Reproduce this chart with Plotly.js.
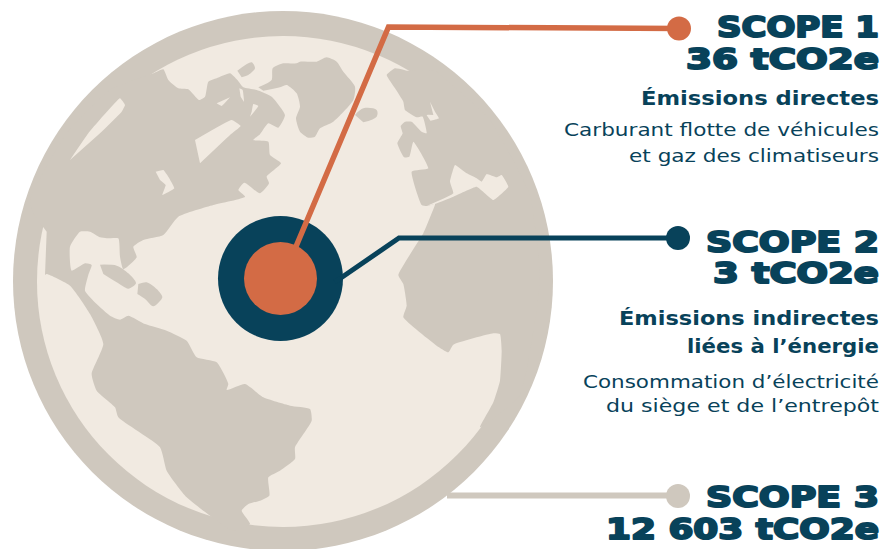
<!DOCTYPE html>
<html><head><meta charset="utf-8">
<script src="https://cdn.plot.ly/plotly-3.0.1.min.js"></script>
<style>html,body{margin:0;padding:0;background:#fff}#c{width:883px;height:549px}</style>
</head><body><div id="c"></div>
<script>
// ---------- chart content ----------
const scopeNames  = ['SCOPE 1', 'SCOPE 2', 'SCOPE 3'];
const scopeValues = ['36', '3', '12 603'];
const scopeUnit   = 'tCO2e';
const subtitles   = ['Émissions directes', 'Émissions indirectes', 'liées à l’énergie'];
const details     = ['Carburant flotte de véhicules', 'et gaz des climatiseurs',
                     'Consommation d’électricité', 'du siège et de l’entrepôt'];

// ---------- palette ----------
const NAVY = '#08425A', ORANGE = '#D36B45', TAUPE = '#CFC8BE', CREAM = '#F1EAE1';

// ---------- helper: outlines were traced on 3x crops, each with its own origin ----------
const tile = (ox, oy, pts) => pts.map(p => [p[0] / 3 + ox, p[1] / 3 + oy]);
const T1 = p => tile(0, 0, p), T2 = p => tile(280, 0, p), T3 = p => tile(0, 274, p), T4 = p => tile(280, 274, p);

const americas = [
  ...T1([[140,695],[100,640],[90,600],[200,400],[330,270],[460,220],[490,208],[505,240],[535,265],[565,268],[597,300],[615,290],[625,245],[650,235],[690,220],[712,240],[730,262],[770,270],[815,290],[855,345],[835,383],[805,370],[780,403],[760,420],[805,425],[810,465],[843,490],[800,530],[807,550],[780,580],[733,548],[715,570],[735,590],[640,615],[535,650],[490,705],[430,720],[400,740],[410,772],[370,808],[360,770],[355,715],[320,715],[300,712],[270,695],[240,695],[210,740],[215,812],[255,790],[275,795],[265,825]]),
  ...T3([[255,50],[290,90],[330,125],[360,137],[385,125],[435,150],[500,170],[560,200],[590,250],[650,265],[685,330],[680,348],[735,330],[790,370],[870,395]]),
  ...T4([[90,405],[95,440],[45,520],[45,555],[0,590]]),
  ...T3([[805,610],[808,665],[780,680],[745,690],[725,710],[750,750],[700,770],[630,725],[560,670],[500,590],[480,520],[355,430],[345,400],[290,350],[275,300],[310,210],[270,120],[210,35],[140,0]]),
  ...T1([[135,825]])
];
const greenland = [
  ...T1([[775,262],[815,240],[818,205],[850,190]]),
  ...T2([[50,190],[60,185],[110,185],[140,172],[170,185],[190,215],[225,260],[220,300],[160,365],[120,385],[105,410],[85,413],[60,395],[48,355],[60,320],[50,280],[20,255],[0,262]]),
  ...T1([[790,272]])
];
const arcticIsle = T1([[712,212],[755,187],[765,205],[745,225],[725,232]]);
const iceland = T2([[225,345],[250,325],[290,330],[290,350],[250,367]]);
const cuba = T3([[300,-28],[350,-25],[385,-2],[408,28],[385,44],[350,25],[310,0]]);
const hispaniola = T3([[415,30],[440,25],[475,50],[487,70],[460,97],[435,75],[412,60]]);
const eurafrica = [
  ...T2([[380,212],[345,205],[320,225],[345,265],[370,305],[375,330],[410,352],[428,350],[440,400],[425,395],[395,365],[375,365],[362,378],[368,400],[352,430],[372,472],[388,470],[400,425],[445,505],[395,515],[425,615],[440,618],[465,612],[455,640],[430,700],[355,825]]),
  ...T4([[370,30],[380,95],[370,130],[470,215],[505,235],[520,212],[640,178],[660,180],[665,230],[660,320],[640,385],[600,460],[720,363]]),
  ...T2([[780,843],[750,585],[630,360],[465,210]])
];
const seas = [
  T1([[585,420],[695,360],[722,378],[690,405],[600,490]]),
  T1([[210,480],[265,400],[360,295],[375,315],[365,335],[300,400]]),
  T1([[467,515],[490,510],[505,530],[523,565],[487,585],[497,555],[480,540]]),
  T1([[650,310],[665,318],[690,292]]),
  T1([[750,350],[775,318],[760,312],[755,335]]),
  T1([[718,265],[728,270],[732,305],[722,290]]),
  T2([[440,618],[520,580],[510,545],[525,495],[560,520],[590,535],[605,545],[620,522],[650,532],[665,525],[685,560],[640,600],[590,560],[520,590],[465,612]]),
  T2([[450,305],[465,335],[477,355],[452,362],[440,345],[460,345]])
];

const poly = (pts, color, smooth) => ({
  x: pts.map(p => p[0]), y: pts.map(p => p[1]), mode: 'lines', fill: 'toself',
  fillcolor: color, line: {width: 0, color: color, shape: 'spline', smoothing: smooth},
  hoverinfo: 'skip', showlegend: false
});
const path = (xs, ys, color, w) => ({
  x: xs, y: ys, mode: 'lines', line: {color: color, width: w, shape: 'linear'},
  hoverinfo: 'skip', showlegend: false
});
const dots = (xs, ys, color, size) => ({
  x: xs, y: ys, mode: 'markers', marker: {color: color, size: size, line: {width: 0}},
  hoverinfo: 'skip', showlegend: false
});
const RIGHT = 879;
const label = (lines, baselines, color, family, weight, size) => ({
  x: lines.map(() => RIGHT), y: baselines.map(b => b - size * 0.365 + 2.6), text: lines,
  mode: 'text', textposition: 'middle left',
  textfont: {family: family, size: size, color: color, weight: weight},
  hoverinfo: 'skip', showlegend: false
});

const headlines = [
  scopeNames[0], scopeValues[0] + ' ' + scopeUnit,
  scopeNames[1], scopeValues[1] + ' ' + scopeUnit,
  scopeNames[2], scopeValues[2] + ' ' + scopeUnit
];

const traces = [
  poly(americas, TAUPE, 0.5), poly(greenland, TAUPE, 0.6), poly(arcticIsle, TAUPE, 0.8), poly(iceland, TAUPE, 1),
  poly(cuba, TAUPE, 0.8), poly(hispaniola, TAUPE, 0.8), poly(eurafrica, TAUPE, 0.4),
  ...seas.map(s => poly(s, CREAM, 0.3)),
  path([447, 678], [495.5, 495.5], TAUPE, 6),
  dots([678], [496], TAUPE, 24),
  dots([280.5], [278.5], NAVY, 125),
  path([335, 399, 678], [282, 238, 238], NAVY, 5),
  dots([678], [238], NAVY, 24),
  path([292, 388.5, 679], [256, 27, 28.5], ORANGE, 5.5),
  dots([679], [28.5], ORANGE, 24),
  dots([280.5], [278.5], ORANGE, 73),
  label(headlines, [38, 70, 252.7, 284, 508, 540], NAVY, 'DejaVu Sans', 700, 29),
  label(subtitles, [105, 325, 352.7], NAVY, 'DejaVu Sans', 700, 20),
  label(details, [135, 161, 387, 411.7], NAVY, 'DejaVu Sans', 400, 17)
];

const layout = {
  width: 883, height: 549, autosize: false,
  margin: {l: 0, r: 0, t: 0, b: 0, pad: 0},
  paper_bgcolor: '#ffffff', plot_bgcolor: '#ffffff', showlegend: false,
  xaxis: {range: [0, 883], visible: false, fixedrange: true},
  yaxis: {range: [549, 0], visible: false, fixedrange: true},
  shapes: [
    {type: 'circle', xref: 'x', yref: 'y', x0: 13, x1: 553, y0: 11, y1: 551, fillcolor: TAUPE, line: {width: 0}, layer: 'below'},
    {type: 'circle', xref: 'x', yref: 'y', x0: 37, x1: 529, y0: 36, y1: 527, fillcolor: CREAM, line: {width: 0}, layer: 'below'}
  ]
};

// Rendered widths of the original lettering (the original face is wider than the installed ones).
const lineWidths = {};
lineWidths[headlines[0]] = 162; lineWidths[headlines[1]] = 193;
lineWidths[headlines[2]] = 173; lineWidths[headlines[3]] = 166;
lineWidths[headlines[4]] = 173; lineWidths[headlines[5]] = 273;
lineWidths[subtitles[0]] = 238; lineWidths[subtitles[1]] = 260; lineWidths[subtitles[2]] = 192;
lineWidths[details[0]] = 315; lineWidths[details[1]] = 250;
lineWidths[details[2]] = 296; lineWidths[details[3]] = 273;

Plotly.newPlot('c', traces, layout, {displayModeBar: false, staticPlot: true}).then(gd => {
  gd.querySelectorAll('.textpoint text').forEach(t => {
    const w = lineWidths[t.textContent];
    if (w) { t.setAttribute('textLength', w); t.setAttribute('lengthAdjust', 'spacingAndGlyphs'); }
    if (headlines.includes(t.textContent)) {
      t.style.stroke = NAVY; t.style.strokeWidth = '2px'; t.style.strokeLinejoin = 'round';
    }
  });
});
</script></body></html>
